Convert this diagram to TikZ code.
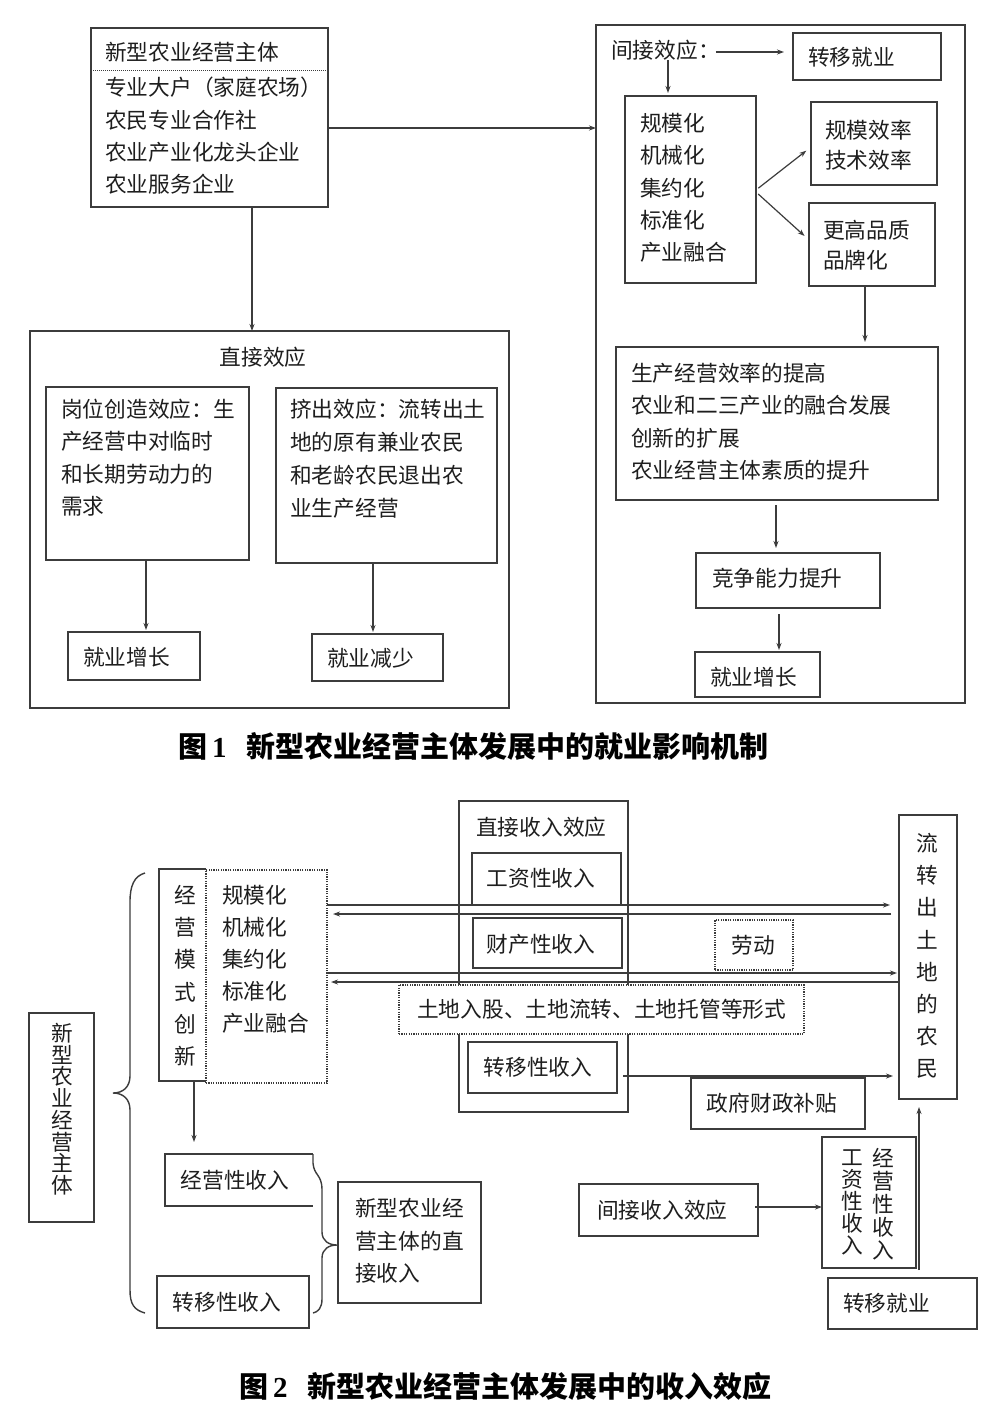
\documentclass[tikz,border=0pt]{standalone}
\usepackage{fontspec}
\setmainfont{Noto Sans CJK SC}
\newfontfamily\numfont{Liberation Serif}
\usetikzlibrary{arrows.meta}
\definecolor{linec}{HTML}{3C3C3C}
\definecolor{txtc}{HTML}{1E1E1E}
\tikzset{
 rbox/.style={draw=linec, line width=1.4pt, inner sep=0pt, outer sep=0pt},
 dotbox/.style={draw=linec, line width=1.1pt, dash pattern=on 1.2pt off 1.2pt},
 txt/.style={inner sep=0pt, text=txtc, font=\fontsize{21.7}{26}\selectfont},
 ml/.style={txt, anchor=north west, align=left, font=\fontsize{21.7}{#1}\selectfont},
 ml/.default=32.3,
 vt/.style={txt, anchor=north, align=center, font=\fontsize{21.7}{#1}\selectfont},
 vt/.default=32.2,
 arr/.style={draw=linec, line width=1.2pt, -{Stealth[length=7pt,width=5pt]}},
 edge3/.style={draw=linec, line width=1.4pt},
 captxt/.style={inner sep=0pt, anchor=west, text=black, font=\fontsize{29}{32}\selectfont\bfseries},
}
\newcommand\mkbox[6][]{\node[rbox,#1,anchor=north west,minimum width={(#5)-(#3)},minimum height={(#6)-(#4)}] (#2) at (#3,#4) {};}
\begin{document}
\begin{tikzpicture}[x=1pt,y=-1pt]
\useasboundingbox (0,0) rectangle (1000,1406);
\fill[white] (0,0) rectangle (1000,1406);
% ================= Figure 1 =================
\mkbox{a}{91}{28}{328}{207}
\draw[linec, line width=1pt, dash pattern=on 1pt off 1pt] ([xshift=2pt]a.west |- 0,70) -- ([xshift=-2pt]a.east |- 0,70);
\node[txt, anchor=west] (a1) at (105,52) {新型农业经营主体};
\node[ml] (a2) at (105,77) {专业大户（家庭农场）\\农民专业合作社\\农业产业化龙头企业\\农业服务企业};
\mkbox{d}{30}{331}{509}{708}
\node[txt] (dt) at (263,357) {直接效应};
\mkbox{d1}{46}{387}{249}{560}
\node[ml] (d1t) at (61,399) {岗位创造效应：生\\产经营中对临时\\和长期劳动力的\\需求};
\mkbox{d2}{276}{388}{497}{563}
\node[ml=33] (d2t) at (290,399) {挤出效应：流转出土\\地的原有兼业农民\\和老龄农民退出农\\业生产经营};
\mkbox{e1}{68}{632}{200}{680}
\node[txt, anchor=west] (e1t) at (83,657) {就业增长};
\mkbox{e2}{312}{634}{443}{681}
\node[txt, anchor=west] (e2t) at (327,658) {就业减少};
\mkbox{r}{596}{25}{965}{703}
\node[txt, anchor=west] (lbl) at (611,50) {间接效应：};
\mkbox{t}{793}{33}{941}{80}
\node[txt, anchor=west] (tt) at (808,57) {转移就业};
\mkbox{s}{625}{96}{756}{283}
\node[ml] (st) at (640,113) {规模化\\机械化\\集约化\\标准化\\产业融合};
\mkbox{ef}{811}{102}{937}{185}
\node[ml=30] (eft) at (825,120) {规模效率\\技术效率};
\mkbox{q}{809}{203}{935}{286}
\node[ml=30] (qt) at (823,220) {更高品质\\品牌化};
\mkbox{p}{616}{347}{938}{500}
\node[ml] (pt) at (631,363) {生产经营效率的提高\\农业和二三产业的融合发展\\创新的扩展\\农业经营主体素质的提升};
\mkbox{c}{696}{553}{880}{608}
\node[txt, anchor=west] (ct) at (712,578) {竞争能力提升};
\mkbox{j}{695}{652}{820}{697}
\node[txt, anchor=west] (jt) at (710,677) {就业增长};
% connectors fig 1
\draw[arr] (a.east |- 0,128) -- (r.west |- 0,128);
\draw[arr] (a.south -| 252,0) -- (d.north -| 252,0);
\draw[arr, shorten >=2pt] (d1.south -| 146,0) -- (e1.north -| 146,0);
\draw[arr, shorten >=2pt] (d2.south -| 373,0) -- (e2.north -| 373,0);
\draw[arr, shorten <=-4pt, shorten >=9pt] (lbl.east |- 0,52) -- (t.west |- 0,52);
\draw[arr, shorten >=3pt] (lbl.south -| 668,0) -- (s.north -| 668,0);
\draw[arr, shorten <=3pt, shorten >=6pt] (s.east |- 0,190) -- (ef.west |- 0,147);
\draw[arr, shorten <=3pt, shorten >=6pt] (s.east |- 0,192) -- (q.west |- 0,240);
\draw[arr, shorten >=5pt] (q.south -| 865,0) -- (p.north -| 865,0);
\draw[arr, shorten <=5pt, shorten >=5pt] (p.south -| 776,0) -- (c.north -| 776,0);
\draw[arr, shorten <=6pt, shorten >=2pt] (c.south -| 779,0) -- (j.north -| 779,0);
\node[captxt] (cap1) at (178,746) {图\hspace{5pt}{\numfont 1}\hspace{20pt}新型农业经营主体发展中的就业影响机制};
% ================= Figure 2 =================
\mkbox{zt}{29}{1013}{94}{1222}
\node[vt=21.7] (ztt) at (62,1023) {新\\型\\农\\业\\经\\营\\主\\体};
\draw[linec, line width=1.4pt] (145,873) .. controls (134,876) and (130,886) .. (130,902) -- (130,1076) .. controls (130,1087) and (123,1093) .. (113,1093) .. controls (123,1093) and (130,1099) .. (130,1110) -- (130,1290) .. controls (130,1304) and (134,1310) .. (145,1313);
\mkbox[draw=none]{ms}{159}{869}{206}{1081}
\draw[edge3] (ms.north east) -- (ms.north west) -- (ms.south west) -- (ms.south east);
\node[vt] (mst) at (185,885) {经\\营\\模\\式\\创\\新};
\mkbox[dotbox]{db}{206}{870}{327}{1083}
\node[ml=32] (dbt) at (222,885) {规模化\\机械化\\集约化\\标准化\\产业融合};
\mkbox{zj}{459}{801}{628}{1112}
\node[txt, anchor=west] (zjt) at (476,827) {直接收入效应};
\mkbox{gz}{472}{853}{621}{905}
\node[txt] (gzt) at (541,878) {工资性收入};
\mkbox{cc}{473}{918}{622}{968}
\node[txt] (cct) at (541,944) {财产性收入};
\mkbox[dotbox]{ld}{715}{920}{793}{970}
\node[txt] (ldt) at (753,945) {劳动};
\mkbox{zy}{468}{1042}{617}{1093}
\node[txt] (zyt) at (538,1067) {转移性收入};
\mkbox{zf}{691}{1078}{865}{1129}
\node[txt] (zft) at (772,1103) {政府财政补贴};
\mkbox{nm}{899}{815}{957}{1099}
\node[vt] (nmt) at (927,833) {流\\转\\出\\土\\地\\的\\农\\民};
\mkbox{jj}{579}{1184}{758}{1236}
\node[txt, anchor=west] (jjt) at (597,1210) {间接收入效应};
\mkbox{wb}{822}{1137}{916}{1268}
\node[vt=22] (wb1) at (852,1150) {工\\资\\性\\收\\入};
\node[vt=23] (wb2) at (883,1148) {经\\营\\性\\收\\入};
\mkbox{zyj}{828}{1278}{977}{1329}
\node[txt, anchor=west] (zyjt) at (843,1303) {转移就业};
\mkbox[draw=none]{jy}{165}{1154}{313}{1206}
\draw[edge3] (jy.north east) -- (jy.north west) -- (jy.south west) -- (jy.south east);
\node[txt] (jyt) at (235,1180) {经营性收入};
\mkbox{zy2}{157}{1276}{309}{1328}
\node[txt] (zy2t) at (227,1302) {转移性收入};
\draw[linec, line width=1.4pt] (jy.north east) -- (313,1163) .. controls (314,1176) and (322,1174) .. (322,1190) -- (322,1232) .. controls (322,1241) and (329,1245) .. (337,1245) .. controls (329,1245) and (322,1249) .. (322,1258) -- (322,1299) .. controls (322,1308) and (318,1312) .. (313,1313);
\mkbox{zs}{338}{1182}{481}{1303}
\node[ml=32.5] (zst) at (355,1198) {新型农业经\\营主体的直\\接收入};
% connectors fig 2
\draw[arr, shorten >=9pt] (db.east |- 0,905) -- (nm.west |- 0,905);
\draw[arr, shorten <=8pt, shorten >=6pt] (nm.west |- 0,914) -- (db.east |- 0,914);
\draw[arr, shorten >=2pt] (db.east |- 0,973) -- (nm.west |- 0,973);
\draw[arr, shorten >=4pt] (nm.west |- 0,982) -- (db.east |- 0,982);
\draw[arr, shorten <=6pt, shorten >=6pt] (zy.east |- 0,1076) -- (nm.west |- 0,1076);
\draw[arr, shorten <=-3pt] (jj.east |- 0,1207) -- (wb.west |- 0,1207);
\draw[arr, shorten <=8pt, shorten >=8pt] (zyj.north -| 919,0) -- (nm.south -| 919,0);
\draw[arr, shorten >=12pt] (ms.south -| 194,0) -- (jy.north -| 194,0);
\mkbox[dotbox,fill=white]{td}{399}{985}{804}{1034}
\node[txt, anchor=west] (tdt) at (417,1009) {土地入股、土地流转、土地托管等形式};
\node[captxt] (cap2) at (239,1386) {图\hspace{5pt}{\numfont 2}\hspace{20pt}新型农业经营主体发展中的收入效应};
\end{tikzpicture}
\end{document}
